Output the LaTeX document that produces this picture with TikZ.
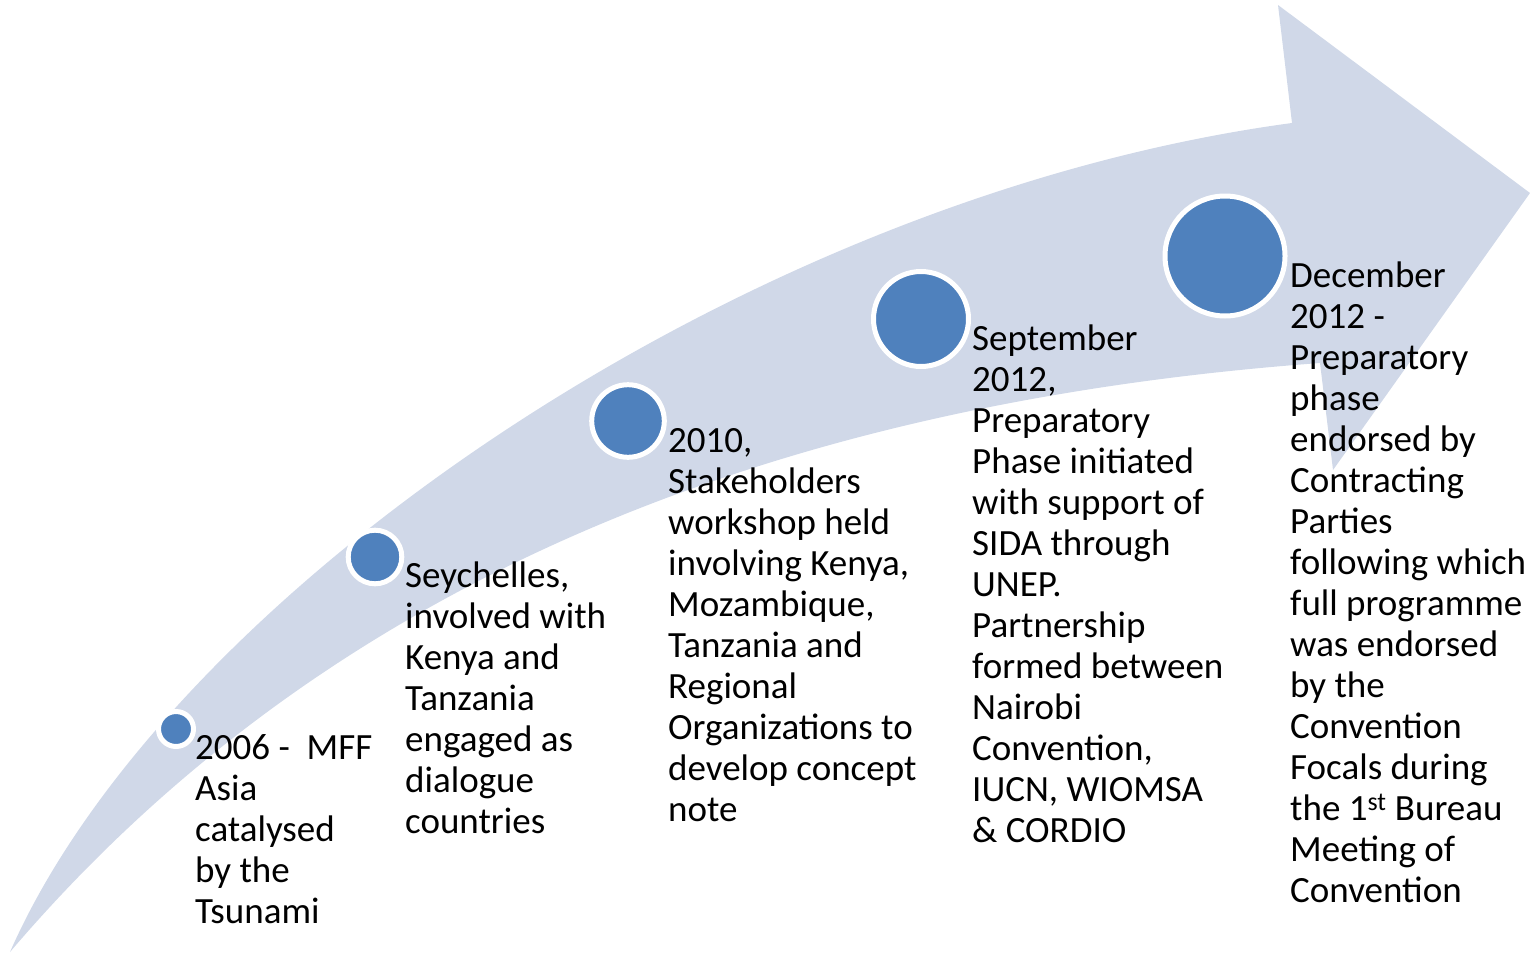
\documentclass[tikz,border=0pt]{standalone}
\usepackage{fontspec}
\setmainfont{Carlito}
\definecolor{bandcol}{HTML}{D0D8E8}
\definecolor{dotcol}{HTML}{4F81BD}
\begin{document}
\begin{tikzpicture}[x=1pt,y=-1pt,
  dot/.style={circle,fill=dotcol,draw=white,line width=5pt,inner sep=0pt},
  label/.style={anchor=base west,inner sep=0pt,font=\fontsize{37}{41}\selectfont}]
\useasboundingbox (0,0) rectangle (1530,953);
% curved arrow
\fill[bandcol] (10,952) .. controls (167,595) and (742,197) .. (1292,123)
  -- (1278,5) -- (1530,193) -- (1333,470) -- (1320,363)
  .. controls (670,411) and (271,646) .. (10,952) -- cycle;
% dots
\node[dot,minimum size=35pt] (c1) at (176,729) {};
\node[dot,minimum size=53.6pt] (c2) at (375,557) {};
\node[dot,minimum size=72.6pt] (c3) at (628,421) {};
\node[dot,minimum size=95pt] (c4) at (921,319) {};
\node[dot,minimum size=120pt] (c5) at (1225,256) {};
% texts
\node[label] (t1) at (195,759) {\parbox[t]{300pt}{\raggedright 2006 -\ \ MFF\\Asia\\catalysed\\by the\\Tsunami}};
\node[label] (t2) at (405,587) {\parbox[t]{300pt}{\raggedright Seychelles,\\involved with\\Kenya and\\Tanzania\\engaged as\\dialogue\\countries}};
\node[label] (t3) at (668,452) {\parbox[t]{300pt}{\raggedright 2010,\\Stakeholders\\workshop held\\involving Kenya,\\Mozambique,\\Tanzania and\\Regional\\Organizations to\\develop concept\\note}};
\node[label] (t4) at (972,350) {\parbox[t]{300pt}{\raggedright September\\2012,\\Preparatory\\Phase initiated\\with support of\\SIDA through\\UNEP.\\Partnership\\formed between\\Nairobi\\Convention,\\IUCN, WIOMSA\\\& CORDIO}};
\node[label] (t5) at (1290,287) {\parbox[t]{300pt}{\raggedright December\\2012 -\\Preparatory\\phase\\endorsed by\\Contracting\\Parties\\following which\\full programme\\was endorsed\\by the\\Convention\\Focals during\\the 1\textsuperscript{st} Bureau\\Meeting of\\Convention}};
\end{tikzpicture}
\end{document}
